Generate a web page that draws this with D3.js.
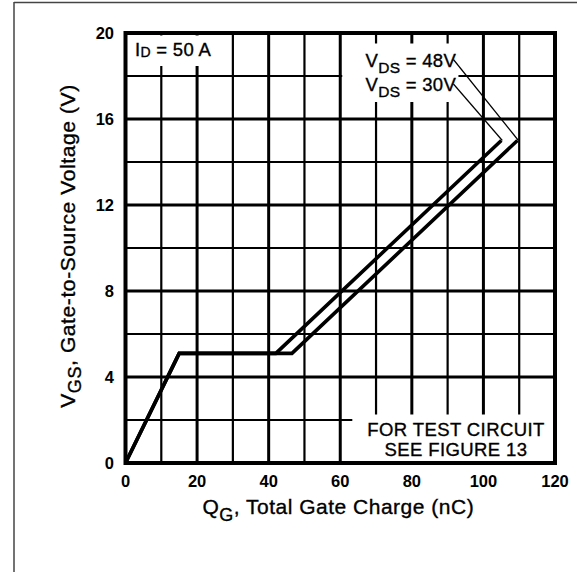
<!DOCTYPE html>
<html><head><meta charset="utf-8">
<script src="https://cdn.jsdelivr.net/npm/d3@7"></script>
<style>
html,body{margin:0;padding:0;background:#fff;}
svg{display:block;}
text{font-family:"Liberation Sans",Arial,Helvetica,sans-serif;fill:#000;}
.heavy{stroke:#000;stroke-width:0.35px;}
</style></head><body>
<svg id="chart" width="579" height="572"></svg>
<script>
// ---- data ----
const xTickValues = [0, 20, 40, 60, 80, 100, 120];
const yTickValues = [0, 4, 8, 12, 16, 20];
const seriesNames = ["30V", "48V"];
const vds30Q = [0, 15, 42, 105];
const vds30V = [0, 5.1, 5.1, 15];
const vds48Q = [0, 15, 46.5, 109.5];
const vds48V = [0, 5.1, 5.1, 15];
const idLabel = "50 A";
const noteLines = ["FOR TEST CIRCUIT", "SEE FIGURE 13"];

// ---- layout ----
const svg = d3.select("#chart");
const L = 125.5, R = 555, T = 33, B = 463;
const x = d3.scaleLinear().domain([0, 120]).range([L, R]);
const y = d3.scaleLinear().domain([0, 20]).range([B, T]);

// outer frame
svg.append("line").attr("x1", 14).attr("y1", 2.5).attr("x2", 577).attr("y2", 2.5)
  .attr("stroke", "#444").attr("stroke-width", 1.5);
svg.append("line").attr("x1", 14).attr("y1", 2).attr("x2", 14).attr("y2", 572)
  .attr("stroke", "#444").attr("stroke-width", 1.5);

// grid
const gx = d3.range(10, 120, 10), gy = d3.range(2, 20, 2);
const grid = svg.append("g");
grid.selectAll(".vx").data(gx).join("line")
  .attr("x1", d => x(d)).attr("x2", d => x(d)).attr("y1", T).attr("y2", B)
  .attr("stroke", "#000").attr("stroke-width", d => d % 20 === 0 ? 3 : 2.2);
grid.selectAll(".hy").data(gy).join("line")
  .attr("y1", d => y(d)).attr("y2", d => y(d)).attr("x1", L).attr("x2", R)
  .attr("stroke", "#000").attr("stroke-width", d => d % 4 === 0 ? 3 : 2.2);

const masks = svg.append("g");
const curves = svg.append("g");
const ann = svg.append("g");

// curves
const line = d3.line().x(d => x(d[0])).y(d => y(d[1]));
const s30 = vds30Q.map((q, i) => [q, vds30V[i]]);
const s48 = vds48Q.map((q, i) => [q, vds48V[i]]);
[s30, s48].forEach(s => {
  curves.append("path").attr("d", line(s)).attr("fill", "none")
    .attr("stroke", "#000").attr("stroke-width", 3.6)
    .attr("stroke-linejoin", "miter").attr("stroke-linecap", "butt");
});

// border
svg.append("rect").attr("x", L).attr("y", T).attr("width", R - L).attr("height", B - T)
  .attr("fill", "none").attr("stroke", "#000").attr("stroke-width", 4);

// tick labels
svg.append("g").selectAll("text").data(xTickValues).join("text")
  .attr("x", d => x(d)).attr("y", B + 24).attr("text-anchor", "middle")
  .attr("font-size", 16.5).attr("font-weight", "bold").text(d => d);
svg.append("g").selectAll("text").data(yTickValues).join("text")
  .attr("x", L - 11.5).attr("y", d => y(d)).attr("dy", "0.36em").attr("text-anchor", "end")
  .attr("font-size", 16.5).attr("font-weight", "bold").text(d => d);

// axis titles
const xt = svg.append("text").attr("class", "heavy").attr("x", (L + R) / 2 - 2).attr("y", 514)
  .attr("text-anchor", "middle").attr("font-size", 21).attr("letter-spacing", 0.5);
xt.append("tspan").text("Q");
xt.append("tspan").attr("font-size", 18).attr("dy", 7).text("G");
xt.append("tspan").attr("dy", -7).text(", Total Gate Charge (nC)");

const yt = svg.append("text").attr("class", "heavy").attr("transform", `translate(75,${(T + B) / 2 - 2}) rotate(-90)`)
  .attr("text-anchor", "middle").attr("font-size", 21).attr("letter-spacing", 0.6);
yt.append("tspan").text("V");
yt.append("tspan").attr("font-size", 18).attr("dy", 6).text("GS");
yt.append("tspan").attr("dy", -6).text(", Gate-to-Source Voltage (V)");

// annotation: I_D
const fs = 18.5;
const idt = ann.append("text").attr("class", "heavy").attr("x", x(0) + 9.5).attr("y", y(20) + 22.5)
  .attr("font-size", fs).attr("letter-spacing", 0.3);
idt.append("tspan").text("I");
idt.append("tspan").attr("font-size", 14).attr("dy", 1.5).text("D");
idt.append("tspan").attr("dy", -1.5).text(" = " + idLabel);
let bb = idt.node().getBBox();
masks.append("rect").attr("x", L + 2).attr("y", bb.y - 3).attr("width", bb.x + bb.width + 3 - L - 2)
  .attr("height", bb.height + 9).attr("fill", "#fff");

// annotation: V_DS labels with leaders
const labelX = 365.5, base1 = 66.5, gap = 24.5;
const ends = [s48[s48.length - 1], s30[s30.length - 1]];
const names = [seriesNames[1], seriesNames[0]];
let boxes = [];
names.forEach((n, i) => {
  const t = ann.append("text").attr("class", "heavy").attr("x", labelX).attr("y", base1 + i * gap)
    .attr("font-size", fs).attr("letter-spacing", 0.3);
  t.append("tspan").text("V");
  t.append("tspan").attr("font-size", 15.5).attr("dy", 6).text("DS");
  t.append("tspan").attr("dy", -6).text(" = " + n);
  const b = t.node().getBBox();
  boxes.push(b);
  const e = ends[i];
  ann.append("line").attr("x1", b.x + b.width - 3).attr("y1", base1 + i * gap - 7)
    .attr("x2", x(e[0]) + 1).attr("y2", y(e[1]))
    .attr("stroke", "#000").attr("stroke-width", 1.2);
});
{
  const bx0 = x(60) + 2, bx1 = Math.max(...boxes.map(b => b.x + b.width)) + 2;
  const by0 = boxes[0].y - 6, by1 = boxes[1].y + boxes[1].height + 2;
  masks.append("rect").attr("x", bx0).attr("y", by0).attr("width", bx1 - bx0).attr("height", by1 - by0).attr("fill", "#fff");
}

// annotation: note
const nt = ann.append("g");
noteLines.forEach((s, i) => {
  nt.append("text").attr("class", "heavy").attr("x", 456).attr("y", 435.5 + i * 20).attr("text-anchor", "middle")
    .attr("font-size", fs).attr("letter-spacing", 0.4).text(s);
});
bb = nt.node().getBBox();
masks.append("rect").attr("x", bb.x - 15).attr("y", bb.y - 4).attr("width", R - (bb.x - 15))
  .attr("height", B - (bb.y - 4)).attr("fill", "#fff");
</script>
</body></html>
